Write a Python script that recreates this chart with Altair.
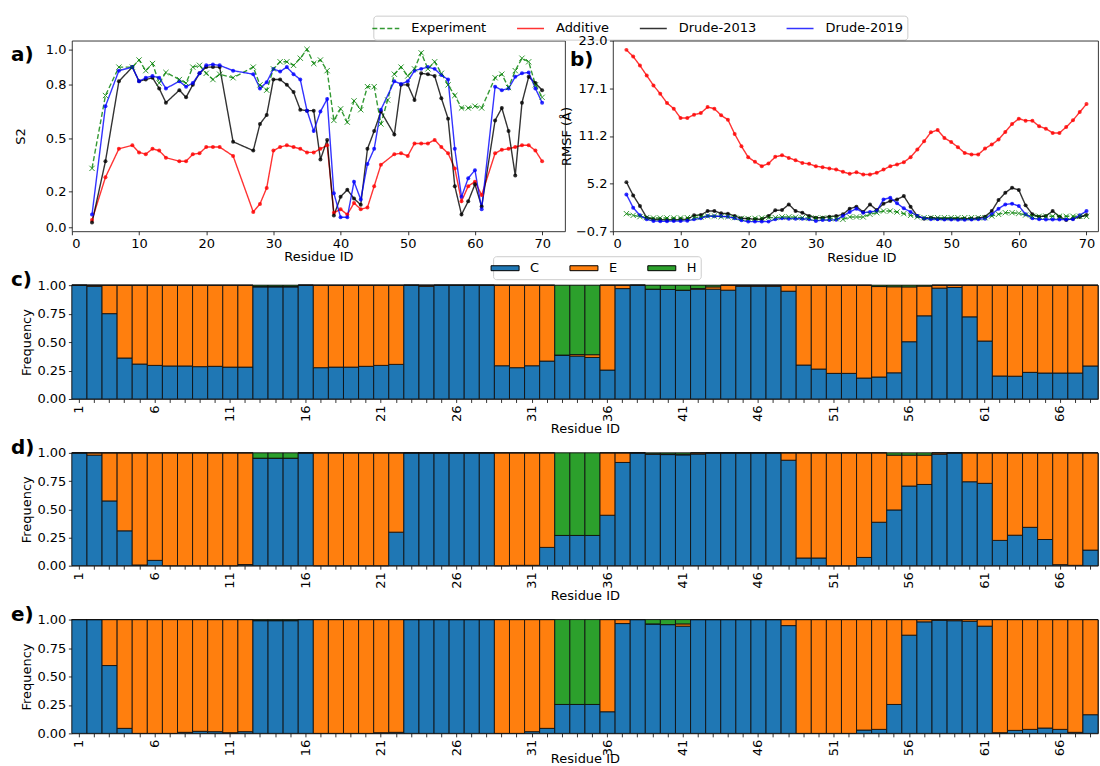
import altair as alt
import pandas as pd

FONT = "DejaVu Sans"

# ---------------- series shared by the two line panels ----------------
series_names = ["Experiment", "Additive", "Drude-2013", "Drude-2019"]
series_colors = ["#008000", "#ff0000", "#000000", "#0000ff"]
series_dashes = [[5, 2.5], [1, 0], [1, 0], [1, 0]]

# ---------------- a) S2 order parameters ----------------
s2_residues = [3, 5, 7, 9, 10, 11, 12, 13, 14, 16, 17, 18, 19, 20, 21, 22, 24,
               27, 28, 29, 30, 31, 32, 33, 34, 35, 36, 37, 38, 39, 40, 41, 42,
               43, 44, 45, 46, 47, 48, 49, 50, 51, 52, 53, 54, 55, 56, 57, 58,
               59, 60, 61, 63, 64, 65, 66, 67, 68, 69, 70]
s2_experiment = [0.33, 0.74, 0.90, 0.90, 0.94, 0.88, 0.92, 0.81, 0.87,
                 0.83, 0.81, 0.90, 0.91, 0.865, 0.83, 0.86, 0.84,
                 0.90, 0.80, 0.77, 0.89, 0.93, 0.93, 0.91, 0.95, 1.00, 0.92,
                 0.94, 0.88, 0.60, 0.665, 0.59, 0.71, 0.66, 0.79, 0.79, 0.58,
                 0.715, 0.86, 0.90, 0.85, 0.89, 0.98, 0.89, 0.93, 0.865, 0.80,
                 0.74, 0.67, 0.67, 0.68, 0.67,
                 0.84, 0.86, 0.785, 0.88, 0.95, 0.93, 0.80, 0.73]
s2_additive = [0.04, 0.28, 0.44, 0.46, 0.42, 0.41, 0.44, 0.43, 0.39,
               0.37, 0.37, 0.41, 0.415, 0.45, 0.45, 0.45, 0.40,
               0.085, 0.13, 0.22, 0.43, 0.45, 0.46, 0.45, 0.44, 0.42, 0.42,
               0.44, 0.46, 0.08, 0.10, 0.07, 0.135, 0.10, 0.11, 0.23, 0.35,
               None, 0.41, 0.415, 0.40, 0.47, 0.47, 0.47, 0.49, 0.45, 0.415,
               0.33, 0.145, 0.23, 0.255, 0.18,
               0.415, 0.435, 0.44, 0.45, 0.46, 0.46, 0.43, 0.37]
s2_drude2013 = [0.025, 0.37, 0.82, 0.90, 0.82, 0.83, 0.84, 0.78, 0.70,
                0.77, 0.73, 0.80, 0.865, 0.90, 0.90, 0.90, 0.48,
                0.43, 0.58, 0.63, 0.83, 0.83, 0.80, 0.76, 0.66, 0.655, 0.655,
                0.38, 0.49, 0.065, 0.17, 0.21, 0.16, 0.125, 0.44, 0.54, 0.65,
                None, 0.52, 0.80, 0.80, 0.715, 0.865, 0.86, 0.85, 0.725, 0.61,
                0.23, 0.07, 0.145, 0.24, 0.115,
                0.60, 0.67, 0.54, 0.29, 0.70, 0.845, 0.81, 0.77]
s2_drude2019 = [0.07, 0.68, 0.88, 0.90, 0.82, 0.84, 0.85, 0.84, 0.78,
                0.82, 0.79, 0.81, 0.865, 0.91, 0.915, 0.91, 0.88,
                0.86, 0.78, 0.815, 0.89, 0.875, 0.90, 0.86, 0.83, 0.655, 0.54,
                0.65, 0.72, 0.19, 0.055, 0.055, 0.255, 0.155, 0.355, 0.44, 0.66,
                None, 0.82, 0.805, 0.82, 0.88, 0.89, 0.90, 0.89, 0.855, 0.83,
                0.44, 0.17, 0.275, 0.32, 0.10,
                0.79, 0.77, 0.78, 0.845, 0.865, 0.87, 0.78, 0.70]
s2_ticks = [0.0, 0.2, 0.5, 0.8, 1.0]

# ---------------- b) RMSF ----------------
rmsf_residues = list(range(2, 71))
rmsf_experiment = [1.49, 1.28, 1.12, 1.0, 0.95, 0.95, 0.95, 0.95, 0.95, 0.99,
                   1.0, 1.08, 1.2, 1.2, 1.12, 1.12, 1.0, 0.91, 0.87, 0.91,
                   0.95, 0.99, 1.0, 1.08, 1.08, 1.04, 0.99, 0.95, 0.95, 0.95,
                   0.91, 0.87, 0.79, 1.08, 1.08, 1.08, 1.41, 1.61, 1.82, 1.82,
                   1.7, 1.49, 1.28, 1.08, 0.99, 0.99, 0.99, 0.99, 0.99, 0.99,
                   0.99, 0.99, 0.99, 0.99, 1.2, 1.41, 1.61, 1.61, 1.53, 1.32,
                   1.16, 1.16, 1.16, 1.16, 1.16, 1.16, 1.16, 1.16, 1.16]
rmsf_additive = [21.85, 21.02, 19.9, 18.66, 17.43, 16.39, 15.24, 14.54, 13.38, 13.38,
                 13.79, 14.0, 14.74, 14.54, 13.71, 13.17, 11.4, 9.87, 8.51, 7.93,
                 7.39, 7.72, 8.55, 8.76, 8.42, 8.14, 7.8, 7.68, 7.39, 7.27,
                 7.1, 6.98, 6.69, 6.44, 6.65, 6.36, 6.36, 6.57, 6.98, 7.39,
                 7.6, 7.89, 8.51, 9.46, 10.49, 11.6, 11.89, 10.9, 10.4, 9.75,
                 9.04, 8.84, 8.84, 9.58, 10.08, 10.7, 11.65, 12.64, 13.3, 13.05,
                 13.05, 12.35, 12.06, 11.52, 11.52, 12.26, 13.09, 14.12, 15.11]
rmsf_drude2013 = [5.41, 3.76, 2.44, 0.99, 0.79, 0.76, 0.74, 0.74, 0.76, 0.79,
                  1.28, 1.32, 1.82, 1.82, 1.53, 1.49, 1.2, 0.91, 0.87, 0.79,
                  0.79, 1.2, 1.9, 1.94, 2.64, 1.82, 1.61, 1.2, 0.99, 0.99,
                  1.12, 1.2, 1.41, 2.11, 2.36, 1.7, 2.64, 1.94, 2.73, 3.06,
                  3.26, 3.68, 2.36, 1.2, 0.87, 0.99, 0.87, 0.87, 0.87, 0.87,
                  0.87, 0.87, 0.91, 1.12, 1.82, 3.18, 4.09, 4.71, 4.42, 2.52,
                  1.41, 1.12, 1.2, 1.82, 1.12, 0.7, 0.87, 1.08, 1.32]
rmsf_drude2019 = [3.88, 2.23, 1.28, 0.79, 0.58, 0.55, 0.55, 0.58, 0.58, 0.6,
                  0.79, 0.91, 1.2, 1.16, 1.16, 1.12, 0.91, 0.66, 0.5, 0.5,
                  0.5, 0.5, 0.79, 0.91, 0.87, 0.87, 0.85, 0.8, 0.58, 0.7,
                  0.7, 0.72, 1.2, 1.7, 2.11, 1.61, 1.7, 1.82, 3.26, 3.47,
                  2.77, 2.15, 1.7, 1.2, 0.91, 0.79, 0.79, 0.76, 0.76, 0.74,
                  0.74, 0.76, 0.79, 0.87, 1.41, 2.11, 2.64, 2.73, 2.44, 1.41,
                  0.91, 0.79, 0.77, 0.77, 0.77, 0.77, 0.79, 1.28, 1.82]
rmsf_ticks = [-0.7, 5.225, 11.15, 17.075, 23.0]

# ---------------- c-e) secondary structure frequencies ----------------
ss_residues = list(range(1, 69))
ss_states = ["C", "E", "H"]
ss_colors = ["#1f77b4", "#ff7f0e", "#2ca02c"]

c_coil = [1.0, 0.99, 0.75, 0.36, 0.307, 0.295, 0.29, 0.29, 0.284, 0.287,
          0.28, 0.28, 0.985, 0.985, 0.985, 1.0, 0.275, 0.28, 0.28, 0.287,
          0.295, 0.304, 1.0, 0.99, 1.0, 1.0, 1.0, 1.0, 0.292, 0.275,
          0.292, 0.333, 0.386, 0.377, 0.365, 0.254, 0.97, 1.0, 0.965, 0.962,
          0.956, 0.965, 0.965, 0.956, 0.99, 0.99, 0.99, 0.947, 0.298, 0.263,
          0.225, 0.225, 0.184, 0.193, 0.23, 0.503, 0.731, 0.974, 0.98, 0.722,
          0.509, 0.202, 0.2, 0.234, 0.228, 0.228, 0.228, 0.29]
c_helix = [0, 0, 0, 0, 0, 0, 0, 0, 0, 0,
           0, 0, 0.012, 0.012, 0.012, 0, 0, 0, 0, 0,
           0, 0, 0, 0, 0, 0, 0, 0, 0, 0,
           0, 0, 0.614, 0.61, 0.611, 0, 0, 0, 0.035, 0.038,
           0.044, 0.03, 0.015, 0, 0, 0, 0, 0, 0, 0,
           0, 0, 0, 0.012, 0.014, 0.015, 0.008, 0, 0, 0,
           0, 0, 0, 0, 0, 0, 0, 0]

d_coil = [1.0, 0.98, 0.574, 0.309, 0.006, 0.047, 0.0, 0.0, 0.0, 0.0,
          0.0, 0.01, 0.953, 0.953, 0.953, 1.0, 0.0, 0.0, 0.0, 0.0,
          0.0, 0.297, 1.0, 1.0, 1.0, 1.0, 1.0, 1.0, 0.0, 0.003,
          0.003, 0.162, 0.268, 0.268, 0.268, 0.447, 0.915, 1.0, 0.988, 0.985,
          0.982, 0.99, 1.0, 1.0, 1.0, 1.0, 1.0, 0.935, 0.068, 0.068,
          0.0, 0.0, 0.073, 0.385, 0.494, 0.706, 0.72, 0.988, 1.0, 0.744,
          0.73, 0.224, 0.27, 0.34, 0.232, 0.009, 0.003, 0.138]
d_helix = [0, 0, 0, 0, 0, 0, 0, 0, 0, 0,
           0, 0, 0.047, 0.047, 0.047, 0, 0, 0, 0, 0,
           0, 0, 0, 0, 0, 0, 0, 0, 0, 0,
           0, 0, 0.732, 0.732, 0.732, 0, 0, 0, 0.008, 0.01,
           0.012, 0, 0, 0, 0, 0, 0, 0, 0, 0,
           0, 0, 0, 0, 0.02, 0.02, 0.02, 0, 0, 0,
           0, 0, 0, 0, 0, 0, 0, 0]

e_coil = [1.0, 1.0, 0.596, 0.044, 0.0, 0.0, 0.0, 0.009, 0.018, 0.015,
          0.006, 0.015, 0.99, 0.99, 0.99, 1.0, 0.0, 0.0, 0.0, 0.0,
          0.006, 0.009, 1.0, 1.0, 1.0, 1.0, 1.0, 1.0, 0.0, 0.0,
          0.015, 0.044, 0.254, 0.254, 0.254, 0.19, 0.965, 1.0, 0.962, 0.956,
          0.942, 1.0, 1.0, 1.0, 1.0, 1.0, 1.0, 0.947, 0.0, 0.0,
          0.0, 0.0, 0.029, 0.035, 0.254, 0.863, 0.98, 0.994, 0.99, 0.985,
          0.942, 0.006, 0.026, 0.035, 0.047, 0.035, 0.009, 0.164]
e_helix = [0, 0, 0, 0, 0, 0, 0, 0, 0, 0,
           0, 0, 0.008, 0.008, 0.008, 0, 0, 0, 0, 0,
           0, 0, 0, 0, 0, 0, 0, 0, 0, 0,
           0, 0, 0.746, 0.746, 0.746, 0, 0, 0, 0.038, 0.044,
           0.038, 0, 0, 0, 0, 0, 0, 0, 0, 0,
           0, 0, 0, 0, 0, 0, 0, 0, 0, 0,
           0, 0, 0, 0, 0, 0, 0, 0]

# ---------------- geometry of the figure ----------------
LEFT_W, RIGHT_W, TOP_H = 494, 486, 191
BAR_W = LEFT_W + 48 + RIGHT_W
X_SHAPE = "M-1,-1L1,1M-1,1L1,-1"


def long_frame(residues, columns):
    rows = []
    for name, values in zip(series_names, columns):
        for r, v in zip(residues, values):
            if v is not None:
                rows.append({"res": r, "val": v, "series": name})
    return pd.DataFrame(rows)


def panel_tag(label, x, y):
    return alt.Chart(pd.DataFrame({"tag": [label]})).mark_text(
        font=FONT, fontSize=20, fontWeight="bold", align="left",
        baseline="middle", color="black"
    ).encode(text="tag:N", x=alt.value(x), y=alt.value(y))


def line_panel(df, width, x_scale, x_axis, y_scale, y_axis, legend, tag):
    color_scale = alt.Scale(domain=series_names, range=series_colors)
    dash_scale = alt.Scale(domain=series_names, range=series_dashes)
    x = alt.X("res:Q", scale=x_scale, axis=x_axis)
    y = alt.Y("val:Q", scale=y_scale, axis=y_axis)
    base = alt.Chart(df)
    lines = base.mark_line(strokeWidth=1.4, opacity=0.8).encode(
        x=x, y=y,
        color=alt.Color("series:N", scale=color_scale, legend=legend),
        strokeDash=alt.StrokeDash("series:N", scale=dash_scale, legend=legend),
    )
    dots = base.transform_filter("datum.series != 'Experiment'").mark_circle(
        size=16, opacity=0.8
    ).encode(x=x, y=y, color=alt.Color("series:N", scale=color_scale, legend=None))
    crosses = base.transform_filter("datum.series == 'Experiment'").mark_point(
        shape=X_SHAPE, size=28, filled=False, strokeWidth=1, opacity=0.8
    ).encode(x=x, y=y, color=alt.Color("series:N", scale=color_scale, legend=None))
    return alt.layer(lines, dots, crosses, tag).properties(width=width, height=TOP_H)


def ss_frame(coil, helix):
    rows = []
    for r, c, h in zip(ss_residues, coil, helix):
        e = max(0.0, 1.0 - c - h)
        for rank, (state, v) in enumerate(zip(ss_states, [c, e, h])):
            rows.append({"res": r, "state": state, "frac": v, "rank": rank})
    return pd.DataFrame(rows)


def bar_panel(coil, helix, label, height, legend, title_y):
    df = ss_frame(coil, helix)
    bars = alt.Chart(df).mark_bar(stroke="#111111", strokeWidth=0.9).encode(
        x=alt.X("res:O", scale=alt.Scale(paddingInner=0, paddingOuter=0),
                axis=alt.Axis(labelAngle=270, labelOverlap=False,
                              labelExpr="(datum.value - 1) % 5 == 0 ? datum.label : ''",
                              title="Residue ID", titleY=title_y,
                              titleBaseline="middle")),
        y=alt.Y("frac:Q", stack="zero",
                scale=alt.Scale(domain=[0, 1], nice=False),
                axis=alt.Axis(values=[0, 0.25, 0.5, 0.75, 1.0], format=".2f",
                              title="Frequency", titleX=-45, titleY=height / 2,
                              titleAngle=270, titleAlign="center",
                              titleBaseline="middle")),
        color=alt.Color("state:N",
                        scale=alt.Scale(domain=ss_states, range=ss_colors),
                        legend=legend),
        order=alt.Order("rank:Q", sort="ascending"),
    )
    return alt.layer(bars, panel_tag(label, -61, -5)).properties(
        width=BAR_W, height=height)


line_legend = alt.Legend(
    title=None, orient="none", legendX=302, legendY=-25,
    direction="horizontal", columns=4, columnPadding=27,
    labelOffset=17, padding=4, strokeColor="#cccccc", fillColor="#ffffff",
    cornerRadius=3, symbolType="M-1.8,0H1.8", symbolSize=225,
    symbolStrokeWidth=1.5, labelFontSize=13, labelFont=FONT,
)
bar_legend = alt.Legend(
    title=None, orient="none", legendX=422, legendY=-29,
    direction="horizontal", columns=3, columnPadding=27,
    labelOffset=17, padding=4, strokeColor="#cccccc", fillColor="#ffffff",
    cornerRadius=3, symbolType="M-1.87,-0.33H1.87V0.33H-1.87Z",
    symbolSize=225, symbolStrokeColor="black", symbolStrokeWidth=1,
    symbolOpacity=1, labelFontSize=13, labelFont=FONT,
)

s2_df = long_frame(s2_residues, [s2_experiment, s2_additive, s2_drude2013, s2_drude2019])
rmsf_df = long_frame(rmsf_residues, [rmsf_experiment, rmsf_additive, rmsf_drude2013, rmsf_drude2019])

panel_a = line_panel(
    s2_df, LEFT_W,
    alt.Scale(domain=[0, 73.4], nice=False, zero=False),
    alt.Axis(values=list(range(0, 71, 10)), format="d", title="Residue ID",
             titleY=25, titleBaseline="middle"),
    alt.Scale(domain=[-0.024, 1.049], nice=False, zero=False),
    alt.Axis(values=s2_ticks, format=".1f", title="S2", titleX=-51,
             titleY=TOP_H / 2, titleAngle=270, titleAlign="center",
             titleBaseline="middle"),
    line_legend, panel_tag("a)", -61, 14),
)

panel_b = line_panel(
    rmsf_df, RIGHT_W,
    alt.Scale(domain=[0, 71.7], nice=False, zero=False),
    alt.Axis(values=list(range(0, 71, 10)), format="d", title="Residue ID",
             titleX=249, titleY=26, titleBaseline="middle"),
    alt.Scale(domain=[-0.7, 23.0], nice=False, zero=False),
    alt.Axis(values=rmsf_ticks, format=".1f", title="RMSF (Å)", titleX=-46,
             titleY=TOP_H / 2, titleAngle=270, titleAlign="center",
             titleBaseline="middle"),
    None, panel_tag("b)", -43, 19),
)

panel_c = bar_panel(c_coil, c_helix, "c)", 114, bar_legend, 30)
panel_d = bar_panel(d_coil, d_helix, "d)", 113, None, 30)
panel_e = bar_panel(e_coil, e_helix, "e)", 114, None, 25)

top_row = alt.hconcat(panel_a, panel_b, spacing=48, bounds="flush").resolve_scale(
    color="independent", strokeDash="independent")

bar_stack = alt.vconcat(panel_c, panel_d, panel_e, spacing=54,
                        bounds="flush").resolve_scale(color="independent")

# the nested rows are laid out flush, so the outer spacing is the offset
# from the top of the line panels to the top of the first bar panel
chart = alt.vconcat(
    top_row, bar_stack, spacing=245, bounds="flush"
).resolve_scale(
    color="independent", strokeDash="independent"
).properties(
    padding={"left": 10, "top": 14, "right": 1, "bottom": 0}
).configure_view(
    stroke="#222222", strokeWidth=0.9
).configure_axis(
    labelFont=FONT, labelFontSize=13, labelColor="black",
    titleFont=FONT, titleFontSize=13, titleFontWeight="normal", titleColor="black",
    tickColor="black", tickSize=3.5, tickWidth=0.8, labelPadding=2.5,
    domain=False, grid=False,
).configure_legend(
    labelFont=FONT, labelFontSize=13, labelColor="black",
)

chart.save("out.html", embed_options={"renderer": "svg", "actions": False})
